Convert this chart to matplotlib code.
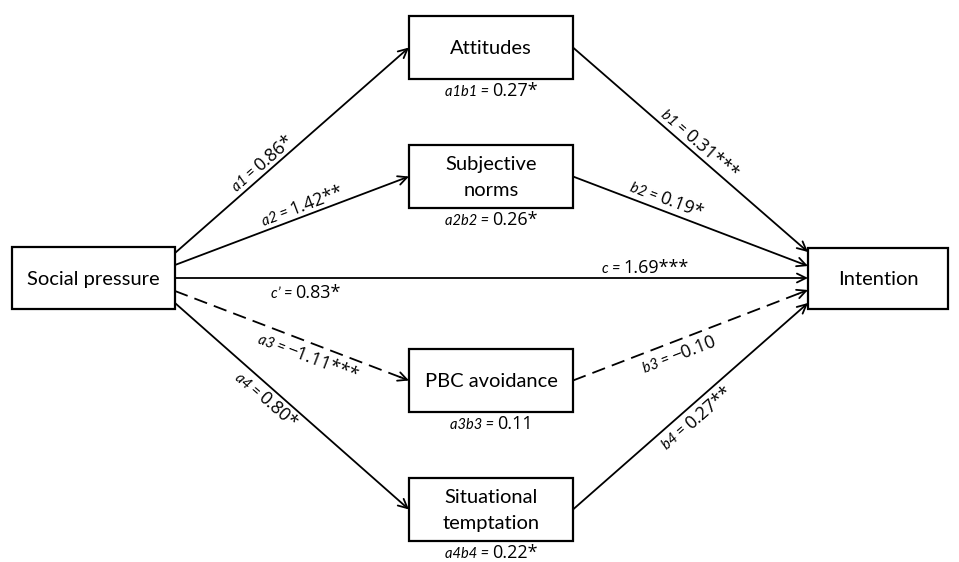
import math
import matplotlib
matplotlib.use("Agg")
import matplotlib.pyplot as plt
from matplotlib.patches import Rectangle, FancyArrowPatch

plt.rcParams['font.family'] = ['Lato', 'DejaVu Sans']
VALUE_FONT = ['Open Sans', 'DejaVu Sans']

# model variables
predictor = "Social pressure"
mediators = ["Attitudes", "Subjective\nnorms", "PBC avoidance", "Situational\ntemptation"]
outcome = "Intention"

# path coefficients
a_names = ["a1", "a2", "a3", "a4"]
a_values = ["0.86*", "1.42**", "\u22121.11***", "0.80*"]
b_names = ["b1", "b2", "b3", "b4"]
b_values = ["0.31***", "0.19*", "\u22120.10", "0.27**"]
ind_names = ["a1b1", "a2b2", "a3b3", "a4b4"]
ind_values = ["0.27*", "0.26*", "0.11", "0.22*"]
c_name, c_value = "c", "1.69***"
cp_name, cp_value = "c\u2019", "0.83*"
dashed = [False, False, True, False]

# layout in pixel coordinates (y down)
pred_box = (12, 247, 175, 309)
med_x = (409, 573)
med_top = [16, 145, 349, 478]
med_h = 63
out_box = (808, 248, 948, 309)
a_start_y = [253, 265, 291, 303]
b_end_y = [252, 266, 290, 303]
c_y = 278
a_lab = [(0.40, 5), (0.56, 5), (0.59, -19), (0.425, -18)]
b_lab = [(0.51, 5), (0.38, 6), (0.43, -19), (0.49, -18)]

BOX_FS = 14.5
SMALL = 10.5
BIG = 13
LW = 1.3

fig = plt.figure(figsize=(9.59, 5.62), dpi=100)
ax = fig.add_axes([0, 0, 1, 1])
ax.set_xlim(0, 959)
ax.set_ylim(562, 0)
ax.axis("off")
renderer = fig.canvas.get_renderer()


def text_width(s, size, style, family=None):
    t = ax.text(0, 0, s, fontsize=size, style=style, family=family)
    w = t.get_window_extent(renderer).width
    t.remove()
    return w


def place_label(cx, cy, ux, uy, name, value):
    # baseline centre at (cx, cy), running along unit vector (ux, uy)
    ang = math.degrees(math.atan2(-uy, ux))
    pre = name + " ="
    w1 = text_width(pre, SMALL, "italic")
    w2 = text_width(value, BIG, "normal", VALUE_FONT)
    gap = 3
    W = w1 + gap + w2
    sx, sy = cx - W / 2 * ux, cy - W / 2 * uy
    kw = dict(rotation=ang, rotation_mode="anchor", ha="center", va="baseline")
    ax.text(sx + w1 / 2 * ux, sy + w1 / 2 * uy, pre, fontsize=SMALL, style="italic", **kw)
    ax.text(sx + (w1 + gap + w2 / 2) * ux, sy + (w1 + gap + w2 / 2) * uy, value,
            fontsize=BIG, family=VALUE_FONT, **kw)


def path(p1, p2, lab, name, value, dash=False):
    (x1, y1), (x2, y2) = p1, p2
    L = math.hypot(x2 - x1, y2 - y1)
    ux, uy = (x2 - x1) / L, (y2 - y1) / L
    style = "->,head_length=0.65,head_width=0.32"
    if dash:
        ax.plot([x1, x2 - 6 * ux], [y1, y2 - 6 * uy], color="black", lw=LW,
                linestyle=(0, (7.5, 4)), solid_capstyle="butt")
        ax.add_patch(FancyArrowPatch((x2 - 10 * ux, y2 - 10 * uy), (x2, y2), arrowstyle=style,
                                     mutation_scale=10, lw=LW, color="black",
                                     shrinkA=0, shrinkB=0))
    else:
        ax.add_patch(FancyArrowPatch((x1, y1), (x2, y2), arrowstyle=style,
                                     mutation_scale=10, lw=LW, color="black",
                                     shrinkA=0, shrinkB=0))
    t, d = lab
    nx, ny = uy, -ux
    cx = x1 + t * (x2 - x1) + d * nx
    cy = y1 + t * (y2 - y1) + d * ny
    place_label(cx, cy, ux, uy, name, value)


def box(x0, y0, x1, y1, text):
    ax.add_patch(Rectangle((x0, y0), x1 - x0, y1 - y0, facecolor="white",
                           edgecolor="black", lw=1.6, zorder=3))
    ax.text((x0 + x1) / 2, (y0 + y1) / 2 + 1, text, fontsize=BOX_FS, ha="center",
            va="center", linespacing=1.6, zorder=4)


# boxes
box(*pred_box, predictor)
box(*out_box, outcome)
for i, name in enumerate(mediators):
    y0 = med_top[i]
    box(med_x[0], y0, med_x[1], y0 + med_h, name)
    place_label((med_x[0] + med_x[1]) / 2, y0 + med_h + 17, 1, 0, ind_names[i], ind_values[i])

# a and b paths
for i in range(4):
    mid = med_top[i] + med_h / 2
    path((pred_box[2], a_start_y[i]), (med_x[0], mid), a_lab[i], a_names[i], a_values[i], dashed[i])
    path((med_x[1], mid), (out_box[0], b_end_y[i]), b_lab[i], b_names[i], b_values[i], dashed[i])

# direct path
ax.add_patch(FancyArrowPatch((pred_box[2], c_y), (out_box[0], c_y),
                             arrowstyle="->,head_length=0.65,head_width=0.32",
                             mutation_scale=10, lw=LW, color="black", shrinkA=0, shrinkB=0))
place_label(645, c_y - 5, 1, 0, c_name, c_value)
place_label(306, c_y + 20, 1, 0, cp_name, cp_value)

fig.savefig("out.png", dpi=100, facecolor="white")
